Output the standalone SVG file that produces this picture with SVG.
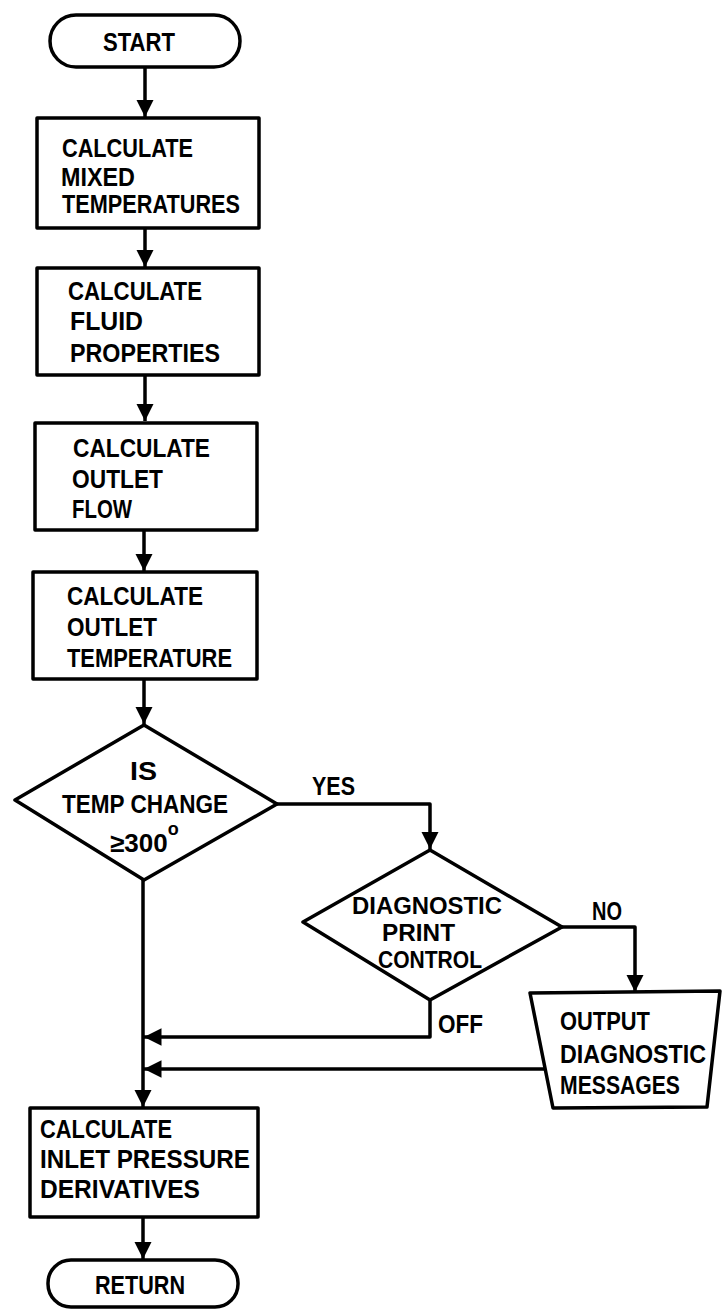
<svg xmlns="http://www.w3.org/2000/svg" width="722" height="1309" viewBox="0 0 722 1309">
<style>
.s{fill:none;stroke:#000;stroke-width:3.5;stroke-linejoin:round}
.n{fill:#fff;stroke:#000;stroke-width:3.5;stroke-linejoin:round}
.t{font-family:"Liberation Sans",Arial,sans-serif;font-weight:bold;font-size:26px;fill:#000}
.d{font-family:"Liberation Sans",Arial,sans-serif;font-weight:bold;font-size:23px;fill:#000}
.l{font-family:"Liberation Sans",Arial,sans-serif;font-weight:bold;font-size:25px;fill:#000}
</style>
<defs>
<marker id="ah" viewBox="0 0 10 10" refX="10" refY="5" markerWidth="5" markerHeight="5" markerUnits="strokeWidth" orient="auto">
<path d="M0,0 L10,5 L0,10 z" fill="#000"/>
</marker>
</defs>
<rect width="722" height="1309" fill="#fff"/>
<g id="connectors">
<path class="s" d="M145,67 V117" marker-end="url(#ah)"/>
<path class="s" d="M145,228 V267" marker-end="url(#ah)"/>
<path class="s" d="M145,375 V421" marker-end="url(#ah)"/>
<path class="s" d="M144,530 V571" marker-end="url(#ah)"/>
<path class="s" d="M144,679 V724" marker-end="url(#ah)"/>
<path class="s" d="M277,804 H430 V849" marker-end="url(#ah)"/>
<path class="s" d="M562,927 H635 V992" marker-end="url(#ah)"/>
<path class="s" d="M430,1000 V1037 H144" marker-end="url(#ah)"/>
<path class="s" d="M549,1069 H144" marker-end="url(#ah)"/>
<path class="s" d="M143,880 V1107" marker-end="url(#ah)"/>
<path class="s" d="M143,1217 V1259" marker-end="url(#ah)"/>
<text class="l" x="312" y="795" textLength="43" lengthAdjust="spacingAndGlyphs">YES</text>
<text class="l" x="592" y="920" textLength="30" lengthAdjust="spacingAndGlyphs">NO</text>
<text class="l" x="438" y="1033" textLength="45" lengthAdjust="spacingAndGlyphs">OFF</text>
</g>
<g id="start">
<rect class="n" x="50" y="15" width="190" height="52" rx="26"/>
<text class="t" x="103" y="51" textLength="72" lengthAdjust="spacingAndGlyphs">START</text>
</g>
<g id="mixed">
<rect class="n" x="37" y="118" width="222" height="110"/>
<text class="t" x="62" y="157" textLength="131" lengthAdjust="spacingAndGlyphs">CALCULATE</text>
<text class="t" x="61" y="186" textLength="74" lengthAdjust="spacingAndGlyphs">MIXED</text>
<text class="t" x="62" y="213" textLength="178" lengthAdjust="spacingAndGlyphs">TEMPERATURES</text>
</g>
<g id="fluid">
<rect class="n" x="37" y="268" width="222" height="107"/>
<text class="t" x="68" y="300" textLength="134" lengthAdjust="spacingAndGlyphs">CALCULATE</text>
<text class="t" x="70" y="330" textLength="73" lengthAdjust="spacingAndGlyphs">FLUID</text>
<text class="t" x="70" y="362" textLength="150" lengthAdjust="spacingAndGlyphs">PROPERTIES</text>
</g>
<g id="flow">
<rect class="n" x="35" y="423" width="222" height="107"/>
<text class="t" x="73" y="457" textLength="137" lengthAdjust="spacingAndGlyphs">CALCULATE</text>
<text class="t" x="72" y="488" textLength="91" lengthAdjust="spacingAndGlyphs">OUTLET</text>
<text class="t" x="72" y="518" textLength="60" lengthAdjust="spacingAndGlyphs">FLOW</text>
</g>
<g id="outtemp">
<rect class="n" x="33" y="572" width="224" height="107"/>
<text class="t" x="67" y="605" textLength="136" lengthAdjust="spacingAndGlyphs">CALCULATE</text>
<text class="t" x="67" y="636" textLength="90" lengthAdjust="spacingAndGlyphs">OUTLET</text>
<text class="t" x="67" y="667" textLength="165" lengthAdjust="spacingAndGlyphs">TEMPERATURE</text>
</g>
<g id="tempchange">
<polygon class="n" points="144,725 277,804 144,880 15,800"/>
<text class="t" x="130" y="780" textLength="27" lengthAdjust="spacingAndGlyphs">IS</text>
<text class="t" x="62" y="813" textLength="166" lengthAdjust="spacingAndGlyphs">TEMP CHANGE</text>
<text class="t" x="110" y="852">≥300<tspan font-size="18" dy="-17">o</tspan></text>
</g>
<g id="diagprint">
<polygon class="n" points="430,850 562,927 430,1000 303,922"/>
<text class="d" x="352" y="914" textLength="150" lengthAdjust="spacingAndGlyphs">DIAGNOSTIC</text>
<text class="d" x="382" y="941" textLength="73" lengthAdjust="spacingAndGlyphs">PRINT</text>
<text class="d" x="378" y="968" textLength="104" lengthAdjust="spacingAndGlyphs">CONTROL</text>
</g>
<g id="output">
<polygon class="n" points="530,993 720,991 707,1107 553,1108"/>
<text class="t" x="560" y="1030" textLength="90" lengthAdjust="spacingAndGlyphs">OUTPUT</text>
<text class="t" x="560" y="1063" textLength="146" lengthAdjust="spacingAndGlyphs">DIAGNOSTIC</text>
<text class="t" x="560" y="1094" textLength="120" lengthAdjust="spacingAndGlyphs">MESSAGES</text>
</g>
<g id="inlet">
<rect class="n" x="30" y="1108" width="228" height="109"/>
<text class="t" x="40" y="1138" textLength="132" lengthAdjust="spacingAndGlyphs">CALCULATE</text>
<text class="t" x="40" y="1168" textLength="210" lengthAdjust="spacingAndGlyphs">INLET PRESSURE</text>
<text class="t" x="40" y="1198" textLength="160" lengthAdjust="spacingAndGlyphs">DERIVATIVES</text>
</g>
<g id="return">
<rect class="n" x="48" y="1260" width="190" height="47" rx="23"/>
<text class="t" x="95" y="1294" textLength="90" lengthAdjust="spacingAndGlyphs">RETURN</text>
</g>
</svg>
